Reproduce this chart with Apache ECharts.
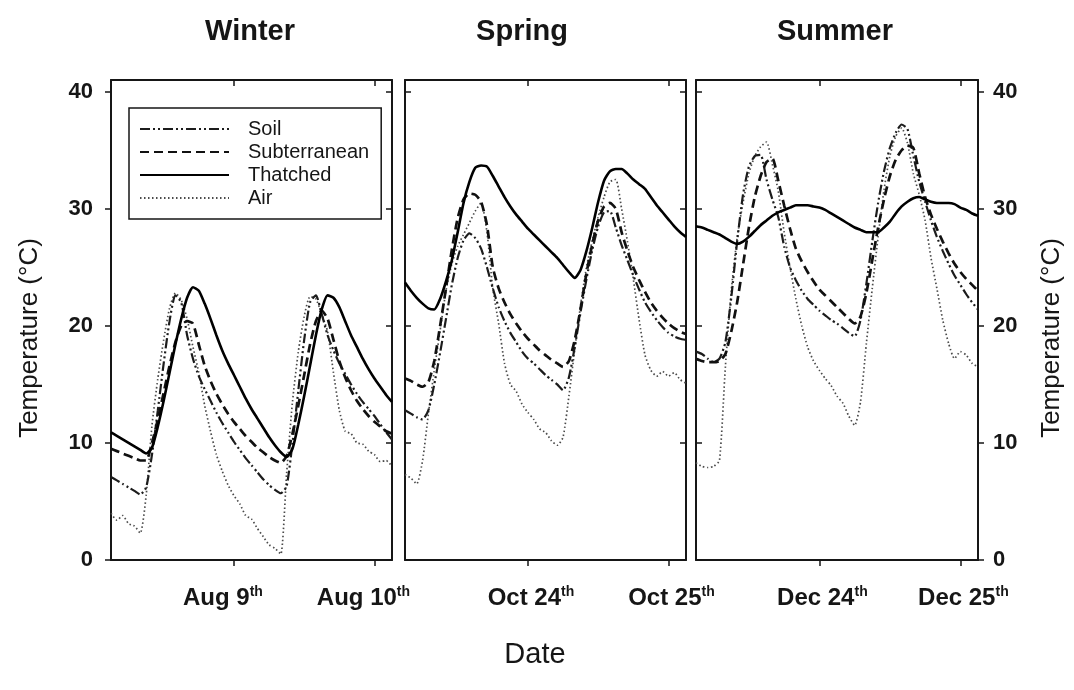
<!DOCTYPE html>
<html>
<head>
<meta charset="utf-8">
<script src="https://cdn.jsdelivr.net/npm/echarts@6/dist/echarts.min.js"></script>
<style>
  html, body { margin: 0; padding: 0; background: #fff; }
  #chart { width: 1074px; height: 690px; }
</style>
</head>
<body>
<div id="chart"></div>
<script>
// Hours relative to midnight of the first labelled date in each season
const hours = [
  -21, -20, -19, -18, -17, -16, -15,
  -14, -13, -12, -11, -10,
  -9, -8, -7, -6, -5, -4, -3, -2, -1,
  0, 1, 2, 3, 4, 5, 6, 7, 8, 9,
  10, 11, 12, 13, 14, 15, 16, 17, 18, 19,
  20, 21, 22, 23, 24, 25, 26, 27
];
const tickHours = [0, 24];
const tempTicks = [0, 10, 20, 30, 40];

const seasons = ['Winter', 'Spring', 'Summer'];
const seasonDates = [['Aug 9', 'Aug 10'], ['Oct 24', 'Oct 25'], ['Dec 24', 'Dec 25']];
const seriesNames = ['Soil', 'Subterranean', 'Thatched', 'Air'];

// Temperature (°C), hourly
const winterSoil = [
  7.1, 6.8, 6.5, 6.2, 5.9, 5.6, 6.2,
  9.0, 12.8, 16.8, 20.4, 22.6,
  22.0, 19.2, 17.2, 15.7, 14.6, 13.6, 12.6, 11.7, 10.9,
  10.1, 9.4, 8.7, 8.1, 7.5, 6.9, 6.4, 6.0, 5.7, 6.3,
  10.0, 14.5, 18.8, 22.0, 22.6, 21.0, 19.2, 17.9, 16.8, 15.9,
  15.0, 14.2, 13.5, 12.9, 12.3, 11.6, 10.9, 10.3
];
const winterSubterranean = [
  9.5, 9.3, 9.1, 8.9, 8.7, 8.5, 8.5,
  10.0, 12.0, 14.3, 16.6, 18.6,
  20.0, 20.4, 20.2, 18.4, 16.6, 15.3, 14.2, 13.3, 12.5,
  11.8, 11.2, 10.6, 10.1, 9.6, 9.2, 8.8, 8.5, 8.3, 8.9,
  10.8, 13.2, 15.8, 18.4, 20.4, 21.3, 20.6, 18.8, 17.0, 15.6,
  14.5, 13.6, 12.9, 12.3, 11.8, 11.4, 11.0, 10.8
];
const winterThatched = [
  10.9, 10.6, 10.3, 10.0, 9.7, 9.4, 9.1,
  9.6, 11.4, 13.6, 16.0, 18.4,
  20.6, 22.4, 23.3, 23.0, 21.9, 20.6, 19.2, 17.9, 16.8,
  15.8, 14.8, 13.8, 12.9, 12.1, 11.3, 10.5, 9.8, 9.2, 8.8,
  9.5, 11.6, 14.0, 16.6, 19.2, 21.4, 22.6, 22.4, 21.6, 20.4,
  19.2, 18.2, 17.2, 16.3, 15.5, 14.8, 14.1, 13.5
];
const winterAir = [
  4.0, 3.4, 3.8, 3.1, 2.9, 2.3, 5.5,
  11.5, 15.5, 18.8, 21.5, 22.8,
  22.2, 20.6, 18.2, 16.0, 13.2, 11.0, 9.0, 7.6, 6.4,
  5.5, 4.8, 3.8, 3.5, 2.7, 2.0, 1.3, 1.0, 0.5, 7.4,
  13.5, 17.8, 20.8, 22.5, 22.3, 21.0, 19.5, 16.0, 12.8, 11.0,
  10.8, 10.0, 9.9, 9.3, 9.0, 8.4, 8.5, 8.0
];

const springSoil = [
  12.8, 12.5, 12.2, 12.0, 12.8, 15.0, 17.7,
  20.6, 23.5, 25.8, 27.3, 27.9,
  27.5, 26.6, 25.0, 23.2, 21.6, 20.4, 19.4, 18.6, 17.8,
  17.2, 16.8, 16.3, 15.8, 15.4, 15.0, 14.5, 15.6, 18.2, 21.2,
  24.0, 26.5, 28.5, 29.7, 29.8, 28.4, 26.9, 25.6, 24.3, 23.1,
  22.0, 21.2, 20.5, 19.9, 19.4, 19.1, 18.9, 18.8
];
const springSubterranean = [
  15.5, 15.3, 15.0, 14.8, 15.2, 17.0, 20.0,
  23.2, 26.5, 29.2, 30.8, 31.3,
  31.2, 30.6, 28.6, 25.0, 23.2, 22.0, 21.0, 20.2, 19.5,
  18.9, 18.4, 17.9, 17.5, 17.1, 16.8, 16.5, 17.0, 18.8, 21.5,
  24.5, 27.0, 29.0, 30.2, 30.5, 30.0, 28.0, 26.4, 25.0, 23.9,
  22.9, 22.0, 21.3, 20.7, 20.2, 19.8, 19.5, 19.3
];
const springThatched = [
  23.7, 23.0, 22.4, 21.9, 21.5, 21.4, 22.3,
  23.8, 25.6, 28.0, 30.5, 32.3,
  33.5, 33.7, 33.6, 32.8, 31.9, 31.0, 30.2, 29.5, 28.9,
  28.3, 27.8, 27.3, 26.8, 26.3, 25.8, 25.2, 24.6, 24.1, 24.8,
  26.4, 28.4, 30.6, 32.4, 33.2, 33.4, 33.4, 33.0, 32.5, 32.1,
  31.7, 31.0, 30.3, 29.7, 29.1, 28.5, 28.0, 27.6
];
const springAir = [
  7.3, 7.0, 6.5, 8.5, 12.5, 16.2, 19.6,
  23.0, 25.3, 26.8, 27.8, 28.8,
  29.8, 30.5, 28.0, 23.2, 20.2, 16.8, 15.0, 14.4, 13.3,
  12.6, 12.0, 11.2, 10.9, 10.2, 9.8, 10.5, 14.0, 18.0, 21.8,
  25.0, 27.3, 29.3, 31.0, 32.3, 32.5, 30.0, 27.2, 24.0, 20.5,
  17.5, 16.2, 15.7, 16.1, 15.7, 16.0, 15.4, 15.1
];

const summerSoil = [
  17.8, 17.6, 17.2, 16.9, 17.2, 18.6, 22.4,
  27.2, 31.2, 33.6, 34.5, 34.6,
  32.5, 30.8, 29.3, 26.8, 25.0, 23.9, 23.0, 22.3, 21.8,
  21.3, 20.9, 20.5, 20.2, 19.8, 19.4, 19.1, 20.5, 23.6, 27.2,
  30.5, 33.2, 35.2, 36.5, 37.2, 36.8, 34.5, 32.3, 30.6, 29.0,
  27.6, 26.4, 25.3, 24.3, 23.5, 22.7, 22.0, 21.4
];
const summerSubterranean = [
  17.2, 17.0, 16.9, 16.9, 17.0, 17.6, 19.5,
  22.0, 25.2, 28.4, 31.0, 32.8,
  34.0, 34.3, 32.4, 30.3, 28.3, 26.6, 25.5, 24.6, 23.8,
  23.1, 22.6, 22.1, 21.6, 21.1, 20.6, 20.2, 20.8, 22.8, 25.6,
  28.4, 30.8, 32.8, 34.2, 35.0, 35.4, 35.2, 33.0, 31.0, 29.5,
  28.3, 27.2, 26.2, 25.3, 24.6, 24.0, 23.5, 23.0
];
const summerThatched = [
  28.5, 28.4, 28.2, 28.0, 27.8, 27.5, 27.2,
  27.0, 27.2, 27.6, 28.1, 28.6,
  29.0, 29.4, 29.7, 29.9, 30.1, 30.3, 30.3, 30.3, 30.2,
  30.1, 29.9, 29.6, 29.3, 29.0, 28.7, 28.4, 28.2, 28.0, 28.0,
  28.0, 28.4, 28.9, 29.6, 30.2, 30.6, 30.9, 31.0, 30.8, 30.6,
  30.5, 30.5, 30.5, 30.4, 30.1, 29.9, 29.6, 29.4
];
const summerAir = [
  8.3, 8.0, 7.9, 8.0, 8.5, 16.5, 23.0,
  27.5, 30.5, 33.0, 34.5, 35.3,
  35.7, 33.8, 31.5, 28.0, 25.0, 22.3, 20.0, 18.2, 17.0,
  16.2, 15.5, 14.9, 14.0, 13.4, 12.3, 11.5, 13.5, 18.5, 23.2,
  27.6, 31.6, 34.5, 36.2, 36.9, 35.6, 33.0, 31.2, 29.0, 25.8,
  23.2, 20.5, 18.5, 17.2, 17.8, 17.5, 16.8, 16.5
];

const seasonValues = [
  [winterSoil, winterSubterranean, winterThatched, winterAir],
  [springSoil, springSubterranean, springThatched, springAir],
  [summerSoil, summerSubterranean, summerThatched, summerAir]
];

// ---- layout & styling ----
const FONT = 'Liberation Sans, Arial, sans-serif';
const INK = '#161616';
const gridLeft = [111, 405, 696];
const gridWidth = [281, 281, 282];
const gridTop = 80, gridHeight = 480;
const titleCenter = [250, 522, 835];

const lineStyles = {
  Soil:         { color: '#1c1c1c', width: 2.2, type: [10, 3, 2, 3, 2, 3] },
  Subterranean: { color: '#111111', width: 2.7, type: [9, 5] },
  Thatched:     { color: '#000000', width: 2.6, type: 'solid' },
  Air:          { color: '#4a4a4a', width: 1.7, type: [1.5, 2.5] }
};

const axisLineStyle = { color: INK, width: 2 };
const tickLineStyle = { color: INK, width: 1.5 };

const grids = [], xAxes = [], yAxes = [], series = [];

seasons.forEach((season, i) => {
  grids.push({ left: gridLeft[i], width: gridWidth[i], top: gridTop, height: gridHeight });

  // bottom date axis
  xAxes.push({
    type: 'value', gridIndex: i, min: -21, max: 27, position: 'bottom',
    axisLine: { show: true, onZero: false, lineStyle: axisLineStyle },
    axisTick: { show: true, inside: false, length: 6, customValues: tickHours, lineStyle: tickLineStyle },
    axisLabel: {
      show: true, customValues: tickHours, margin: 25,
      padding: i === 0 ? [0, 22, 0, 0] : [0, 0, 0, 6],
      formatter: (v) => '{d|' + seasonDates[i][tickHours.indexOf(v)] + '}{s|th}',
      rich: {
        d: { fontFamily: FONT, fontSize: 24, fontWeight: 'bold', color: INK, lineHeight: 26 },
        s: { fontFamily: FONT, fontSize: 14, fontWeight: 'bold', color: INK, lineHeight: 15, verticalAlign: 'top' }
      }
    },
    splitLine: { show: false }
  });
  // top frame
  xAxes.push({
    type: 'value', gridIndex: i, min: -21, max: 27, position: 'top',
    axisLine: { show: true, onZero: false, lineStyle: axisLineStyle },
    axisTick: { show: true, inside: true, length: 6, customValues: tickHours, lineStyle: tickLineStyle },
    axisLabel: { show: false },
    splitLine: { show: false }
  });

  const labelStyle = { fontFamily: FONT, fontSize: 22, fontWeight: 'bold', color: INK };
  yAxes.push({
    type: 'value', gridIndex: i, min: 0, max: 41, position: 'left',
    axisLine: { show: true, onZero: false, lineStyle: axisLineStyle },
    axisTick: { show: true, inside: i !== 0, length: 6, customValues: tempTicks, lineStyle: tickLineStyle },
    axisLabel: Object.assign({ show: i === 0, customValues: tempTicks, margin: 18 }, labelStyle),
    splitLine: { show: false }
  });
  yAxes.push({
    type: 'value', gridIndex: i, min: 0, max: 41, position: 'right',
    axisLine: { show: true, onZero: false, lineStyle: axisLineStyle },
    axisTick: { show: true, inside: i !== 2, length: 6, customValues: tempTicks, lineStyle: tickLineStyle },
    axisLabel: Object.assign({ show: i === 2, customValues: tempTicks, margin: 15 }, labelStyle),
    splitLine: { show: false }
  });

  seriesNames.forEach((name, k) => {
    const vals = seasonValues[i][k];
    series.push({
      name: name, type: 'line', xAxisIndex: 2 * i, yAxisIndex: 2 * i,
      data: hours.map((h, j) => [h, vals[j]]),
      symbol: 'none', showSymbol: false, smooth: 0.2,
      lineStyle: lineStyles[name], itemStyle: { color: lineStyles[name].color },
      z: name === 'Air' ? 1 : 2
    });
  });
});

const textEl = (text, x, y, size, weight, rotation) => ({
  type: 'text', x: x, y: y, rotation: rotation || 0,
  style: {
    text: text, x: 0, y: 0, fill: INK,
    font: weight + ' ' + size + 'px ' + FONT,
    align: 'center', verticalAlign: 'middle',
    textAlign: 'center', textVerticalAlign: 'middle'
  }
});

const graphics = seasons.map((s, i) => textEl(s, titleCenter[i], 32, 29, 'bold'));
graphics.push(textEl('Date', 535, 655, 29, 'normal'));
graphics.push(textEl('Temperature (°C)', 30, 338, 26, 'normal', Math.PI / 2));
graphics.push(textEl('Temperature (°C)', 1052, 338, 26, 'normal', Math.PI / 2));

const chart = echarts.init(document.getElementById('chart'), null, { renderer: 'canvas' });
chart.setOption({
  backgroundColor: '#ffffff',
  animation: false,
  grid: grids,
  xAxis: xAxes,
  yAxis: yAxes,
  legend: {
    data: seriesNames, orient: 'vertical', left: 129, top: 108,
    itemWidth: 89, itemHeight: 14, itemGap: 3,
    padding: [11, 12, 11, 10],
    borderColor: INK, borderWidth: 1.5, backgroundColor: '#fff',
    selectedMode: false,
    itemStyle: { opacity: 0 },
    textStyle: { fontFamily: FONT, fontSize: 20, color: INK, lineHeight: 20, padding: [0, 0, 0, 14] }
  },
  graphic: graphics,
  series: series
});
</script>
</body>
</html>
